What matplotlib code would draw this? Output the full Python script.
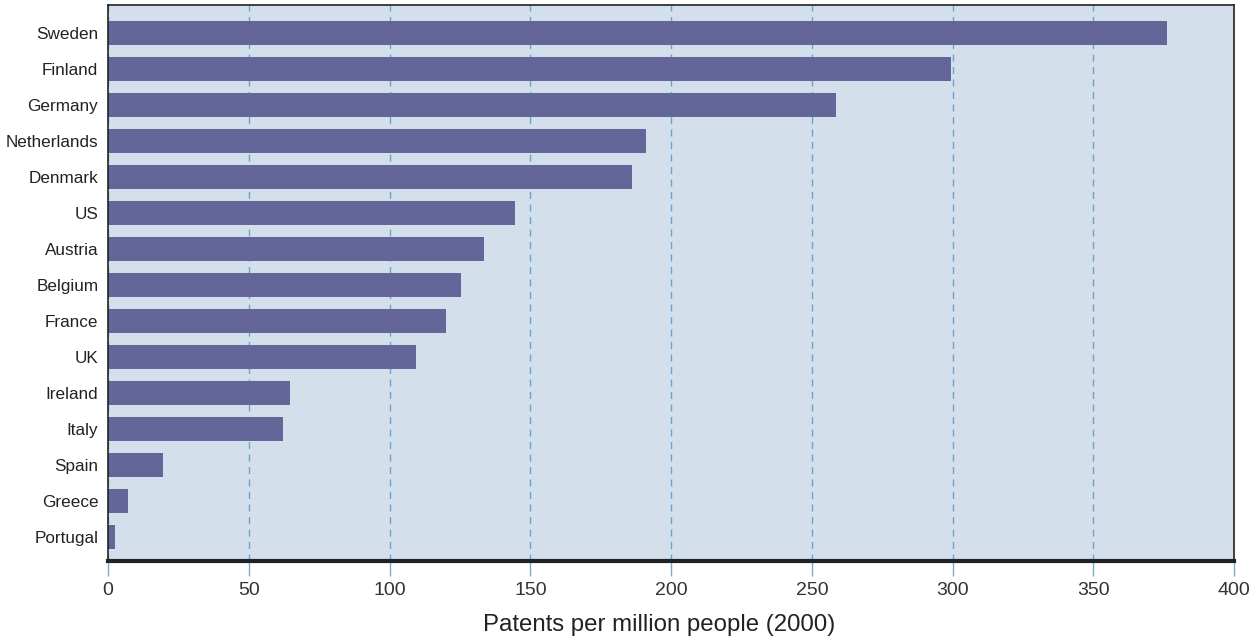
import matplotlib.pyplot as plt

countries = ["Sweden", "Finland", "Germany", "Netherlands", "Denmark", "US",
             "Austria", "Belgium", "France", "UK", "Ireland", "Italy",
             "Spain", "Greece", "Portugal"]
patents = [376, 299.5, 258.5, 191, 186, 144.5, 133.5, 125.5, 120, 109.5,
           64.5, 62, 19.5, 7, 2.5]
xticks = [0, 50, 100, 150, 200, 250, 300, 350, 400]

fig = plt.figure(figsize=(12.58, 6.41), dpi=100)
ax = fig.add_axes([0.0859, 0.1248, 0.8951, 0.8674])
ax.set_facecolor("#d3dfea")

pos = list(range(len(countries)))
ax.barh(pos, patents, height=0.67, color="#646699", zorder=3)
ax.set_ylim(len(countries) - 0.33, -0.78)
ax.set_xlim(0, 400)

ax.set_yticks(pos)
ax.set_yticklabels(countries, family=["Liberation Sans", "DejaVu Sans"],
                   fontsize=12.3, color="#222222")
ax.tick_params(axis="y", length=0, pad=7)

ax.set_xticks(xticks)
ax.set_xticklabels([str(t) for t in xticks], family=["Liberation Sans", "DejaVu Sans"],
                   fontsize=14, color="#333333")
ax.tick_params(axis="x", length=11, width=1, color="#7aaed0", direction="out", pad=4)
for t in ax.xaxis.get_ticklines():
    t.set_linestyle((0, (3, 3)))
ax.xaxis.grid(True, color="#6aa3cb", linestyle=(0, (5, 4)), linewidth=1, zorder=1)

for side in ["top", "left", "right"]:
    ax.spines[side].set_linewidth(1.2)
    ax.spines[side].set_color("#222222")
ax.spines["bottom"].set_linewidth(3)
ax.spines["bottom"].set_color("#222222")
for s in ax.spines.values():
    s.set_zorder(4)

ax.set_xlabel("Patents per million people (2000)", family=["Liberation Sans", "DejaVu Sans"],
              fontsize=17.3, color="#222222", labelpad=12)
ax.xaxis.set_label_coords(0.489, -0.095)

fig.savefig("out.png", dpi=100)
